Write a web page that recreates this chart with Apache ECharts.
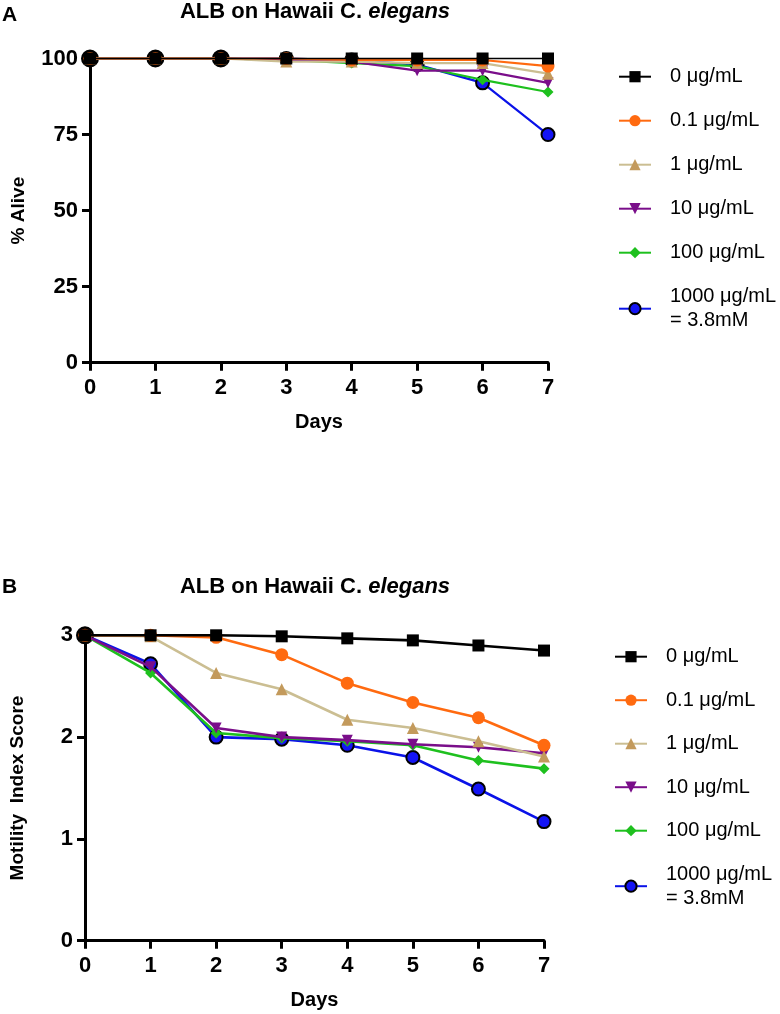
<!DOCTYPE html>
<html><head><meta charset="utf-8">
<script src="https://cdn.jsdelivr.net/npm/echarts@6/dist/echarts.min.js"></script>
<style>html,body{margin:0;padding:0;background:#fff}#c{width:780px;height:1014px}</style>
</head><body><div id="c"></div>
<script>
// ---- data ----
const days = [0, 1, 2, 3, 4, 5, 6, 7];
const seriesNames = ['0 \u03bcg/mL', '0.1 \u03bcg/mL', '1 \u03bcg/mL', '10 \u03bcg/mL', '100 \u03bcg/mL', '1000 \u03bcg/mL\n= 3.8mM'];

// Panel A: % Alive
const aliveConc0    = [100, 100, 100, 100, 100, 100, 100, 100];
const aliveConc0_1  = [100, 100, 100, 100, 99.5, 99.5, 99.5, 97.5];
const aliveConc1    = [100, 100, 100, 99, 99, 98.5, 98.5, 95];
const aliveConc10   = [100, 100, 100, 99.5, 99, 96, 96, 92];
const aliveConc100  = [100, 100, 100, 99.5, 98.5, 97.5, 93, 89];
const aliveConc1000 = [100, 100, 100, 100, 99.5, 98, 92, 75];

// Panel B: Motility Index Score
const motConc0    = [3, 3, 3, 2.99, 2.97, 2.95, 2.90, 2.85];
const motConc0_1  = [3, 3, 2.98, 2.81, 2.53, 2.34, 2.19, 1.92];
const motConc1    = [3, 2.99, 2.63, 2.47, 2.17, 2.09, 1.96, 1.81];
const motConc10   = [3, 2.69, 2.09, 2.00, 1.97, 1.93, 1.90, 1.84];
const motConc100  = [3, 2.63, 2.04, 1.99, 1.96, 1.92, 1.77, 1.69];
const motConc1000 = [3, 2.72, 2.00, 1.98, 1.92, 1.80, 1.49, 1.17];

const aliveTicks = [0, 25, 50, 75, 100];
const motTicks = [0, 1, 2, 3];

// ---- styling ----
const FF = '"Liberation Sans", Arial, Helvetica, sans-serif';
const styles = [
  { line: '#000000', fill: '#000000', symbol: 'rect', size: 12, z: 8 },
  { line: '#FF6A10', fill: '#FF6A10', symbol: 'circle', size: 13, z: 7 },
  { line: '#CBBE92', fill: '#C39A5C', symbol: 'triangle', size: 12, z: 6 },
  { line: '#7A0E8A', fill: '#7A0E8A', symbol: 'triangle', size: 11, rotate: 180, z: 5 },
  { line: '#1EC01E', fill: '#1EC01E', symbol: 'diamond', size: 11, z: 4 },
  { line: '#0A12E8', fill: '#1414F5', symbol: 'circle', size: 13, border: '#000', bw: 2, z: 3 }
];

function buildSeries(gi, arrs, lw, blackDays) {
  return arrs.map((arr, k) => {
    const s = styles[k];
    return {
      name: seriesNames[k], type: 'line', xAxisIndex: gi, yAxisIndex: gi,
      clip: false, z: s.z,
      symbol: s.symbol, symbolSize: s.size, symbolRotate: s.rotate || 0,
      lineStyle: { color: s.line, width: (k === 0 && gi === 0) ? 1.6 : lw },
      itemStyle: { color: s.fill, borderColor: s.border || s.fill, borderWidth: s.bw || 0 },
      data: arr.map((v, i) => (k === 5 && blackDays.indexOf(i) >= 0)
        ? { value: [days[i], v], itemStyle: { color: '#000' }, symbolSize: 16 }
        : [days[i], v])
    };
  });
}

function xAxisFor(gi) {
  return {
    gridIndex: gi, type: 'value', min: 0, max: 7, interval: 1,
    axisLine: { show: true, onZero: false, lineStyle: { color: '#000', width: 3 } },
    axisTick: { show: true, length: 8, lineStyle: { color: '#000', width: 3 } },
    axisLabel: { fontSize: 22, fontWeight: 'bold', color: '#000', fontFamily: FF, margin: 14 },
    splitLine: { show: false },
    name: 'Days', nameLocation: 'middle', nameGap: 50,
    nameTextStyle: { fontSize: 20, fontWeight: 'bold', color: '#000', fontFamily: FF }
  };
}
function yAxisFor(gi, ticks, name, gap) {
  return {
    gridIndex: gi, type: 'value', min: ticks[0], max: ticks[ticks.length - 1],
    interval: ticks[1] - ticks[0],
    axisLine: { show: true, lineStyle: { color: '#000', width: 3 } },
    axisTick: { show: true, length: 8, lineStyle: { color: '#000', width: 3 } },
    axisLabel: { fontSize: 22, fontWeight: 'bold', color: '#000', fontFamily: FF, margin: 12 },
    splitLine: { show: false },
    name: name, nameLocation: 'middle', nameGap: gap, nameRotate: 90,
    nameTextStyle: { fontSize: 19, fontWeight: 'bold', color: '#000', fontFamily: FF }
  };
}
function legendFor(left, top, gap) {
  return {
    data: seriesNames, orient: 'vertical', left: left, top: top, padding: 0,
    itemWidth: 32, itemHeight: 14, itemGap: gap, selectedMode: false,
    textStyle: { fontSize: 20, color: '#000', fontFamily: FF, lineHeight: 24, padding: [0, 0, 0, 14] }
  };
}
const titleRich = {
  a: { fontSize: 22, fontWeight: 'bold', color: '#000', fontFamily: FF },
  b: { fontSize: 22, fontWeight: 'bold', fontStyle: 'italic', color: '#000', fontFamily: FF }
};

const chart = echarts.init(document.getElementById('c'), null, { renderer: 'canvas' });
chart.setOption({
  animation: false,
  backgroundColor: '#fff',
  title: [
    { text: 'A', left: 2, top: 5, padding: 0, textStyle: { fontSize: 21, fontWeight: 'bold', color: '#000', fontFamily: FF } },
    { text: 'B', left: 2, top: 577, padding: 0, textStyle: { fontSize: 21, fontWeight: 'bold', color: '#000', fontFamily: FF } },
    { text: '{a|ALB on Hawaii C. }{b|elegans}', left: 315, textAlign: 'center', top: 1, padding: 0, textStyle: { rich: titleRich } },
    { text: '{a|ALB on Hawaii C. }{b|elegans}', left: 315, textAlign: 'center', top: 576, padding: 0, textStyle: { rich: titleRich } }
  ],
  grid: [
    { left: 90, top: 58.5, width: 458, height: 304.2 },
    { left: 85, top: 635.3, width: 459, height: 305.4 }
  ],
  xAxis: [xAxisFor(0), xAxisFor(1)],
  yAxis: [yAxisFor(0, aliveTicks, '% Alive', 62), yAxisFor(1, motTicks, 'Motility  Index Score', 58)],
  legend: [legendFor(618, 64.7, 20), legendFor(614, 644.7, 19.5)],
  series: [].concat(
    buildSeries(0, [aliveConc0, aliveConc0_1, aliveConc1, aliveConc10, aliveConc100, aliveConc1000], 2.2, [0, 1, 2]),
    buildSeries(1, [motConc0, motConc0_1, motConc1, motConc10, motConc100, motConc1000], 2.6, [0])
  )
});
</script></body></html>
